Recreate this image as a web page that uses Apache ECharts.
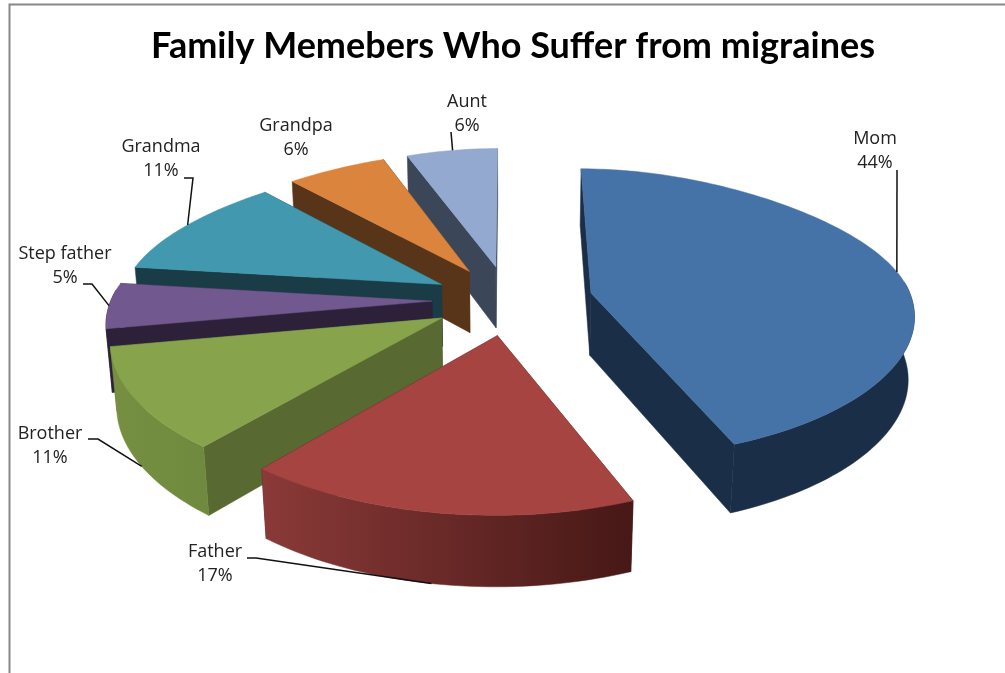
<!DOCTYPE html>
<html>
<head>
<meta charset="utf-8">
<style>html,body{margin:0;padding:0;background:#fff}#chart{width:1005px;height:673px}</style>
<script src="https://cdn.jsdelivr.net/npm/echarts@6/dist/echarts.min.js"></script>
</head>
<body>
<div id="chart"></div>
<script>
// Family members who suffer from migraines
const members = ['Mom', 'Father', 'Brother', 'Step father', 'Grandma', 'Grandpa', 'Aunt'];
const shares = [44, 17, 11, 5, 11, 6, 6];

// Shading per slice: top face, cut faces, outer rim from left to right
const topColors = ['#4572a7', '#a54441', '#87a44d', '#71588f', '#4198af', '#db843d', '#93a9cf'];
const cutColors = ['#1b2e47', '#4a1a18', '#586a31', '#2d2139', '#1a3c47', '#583418', '#3b4759'];
const rimLeft = ['#1b2e47', '#8a3a38', '#768f42', '#2d2139', '#1a3c47', '#583418', '#3b4759'];
const rimRight = ['#1b2e47', '#461816', '#6f8a3e', '#2d2139', '#1a3c47', '#583418', '#3b4759'];
// Painting order, far slices first
const paintRank = [6, 5, 4, 3, 2, 1, 0];

// Scene geometry of the exploded pie
const centerX = 510, centerY = 300;
const radius = 321, thickness = 71;
const explodeBy = [83, 78, 78, 78, 78, 78, 78];
const tiltSin = 0.447, tiltCos = Math.sqrt(1 - tiltSin * tiltSin), eyeDistance = 2050;
const farSquash = 0.13, nearSquash = 0.03;

// Label placement: text centre, elbow points, where the leader's tip sits on the rim
const labelPos = [[875, 151], [215, 564], [50, 446], [65, 266], [161, 159], [296, 138], [467, 114]];
const elbows = [
  [[897, 170]],
  [[247, 558], [256, 558]],
  [[88, 439], [98, 439]],
  [[83, 284], [92, 284]],
  [[184, 178], [193, 178]],
  [],
  [[451, 132]]
];
const tipLevel = [0, 1, 1, 0, 0, null, 0];
const tipTurn = [2, 1, 0, 0, 0, 0, 0];

const total = shares.reduce((a, b) => a + b, 0);

function project(x, v, z) {
  const f = eyeDistance / (eyeDistance - v * tiltCos - z * tiltSin);
  return [centerX + x * f, centerY + (v * tiltSin - z * tiltCos) * f];
}

function renderSlice(params, api) {
  const i = params.dataIndex;
  const start = shares.slice(0, i).reduce((a, b) => a + b, 0) / total * 2 * Math.PI;
  const sweep = api.value(1) / total * 2 * Math.PI;
  const mid = start + sweep / 2;
  const ox = explodeBy[i] * Math.sin(mid), ov = -explodeBy[i] * Math.cos(mid);
  const rimAt = (a, z) => {
    const c = Math.cos(a), s = Math.sin(a);
    const squash = c > 0 ? farSquash : nearSquash;
    return project(ox + radius * s * (1 - squash * c * c), ov - radius * c, z);
  };
  const apex = z => project(ox, ov, z);

  const steps = Math.max(8, Math.round(sweep * 40));
  const angles = [];
  for (let s = 0; s <= steps; s++) angles.push(start + sweep * s / steps);
  const topArc = angles.map(a => rimAt(a, 0));
  // Only the part of the rim turned towards the viewer gets a wall
  const facing = angles.filter(a => Math.cos(a) < 0.1);

  const z2 = paintRank[i] * 10;
  const poly = (points, fill, order) => ({
    type: 'polygon',
    shape: { points },
    style: { fill, stroke: fill, lineWidth: 0.5 },
    z2: z2 + order,
    silent: true
  });

  const children = [
    poly([apex(0), topArc[0], rimAt(start, -thickness), apex(-thickness)], cutColors[i], 0),
    poly([apex(0), topArc[steps], rimAt(start + sweep, -thickness), apex(-thickness)], cutColors[i], 0)
  ];

  if (facing.length > 1) {
    const upper = facing.map(a => rimAt(a, 0));
    const lower = facing.map(a => rimAt(a, -thickness));
    const xs = topArc.map(p => p[0]);
    const rimFill = new echarts.graphic.LinearGradient(
      Math.min(...xs), 0, Math.max(...xs), 0,
      [{ offset: 0, color: rimLeft[i] }, { offset: 1, color: rimRight[i] }], true);
    children.push(poly(upper.concat(lower.reverse()), rimFill, 1));
  }

  children.push(poly([apex(0)].concat(topArc), topColors[i], 2));

  // Leader line from the label to the slice's rim
  if (tipLevel[i] !== null) {
    const tip = rimAt(mid + tipTurn[i] * Math.PI / 180, -thickness * tipLevel[i]);
    children.push({
      type: 'polyline',
      shape: { points: elbows[i].concat([tip]) },
      style: { fill: null, stroke: '#111', lineWidth: 1.5 },
      z2: 200,
      silent: true
    });
  }

  // Two-line label: member name over its share
  [members[i], api.value(1) + '%'].forEach((text, line) => {
    children.push({
      type: 'text',
      style: {
        text,
        x: labelPos[i][0],
        y: labelPos[i][1] + (line ? 12 : -12),
        align: 'center',
        verticalAlign: 'middle',
        font: '18px "Open Sans"',
        fill: '#222'
      },
      z2: 210,
      silent: true
    });
  });

  return { type: 'group', children };
}

const chart = echarts.init(document.getElementById('chart'), null, { renderer: 'canvas' });
chart.setOption({
  animation: false,
  backgroundColor: '#fff',
  title: {
    text: 'Family Memebers Who Suffer from migraines',
    left: 508,
    top: 23,
    textAlign: 'center',
    textStyle: { fontFamily: 'Lato', fontWeight: 'bold', fontSize: 36, color: '#000' }
  },
  graphic: [{
    type: 'rect',
    shape: { x: 9.5, y: 4.5, width: 1100, height: 800 },
    style: { fill: 'none', stroke: '#888', lineWidth: 2 },
    silent: true
  }],
  series: [{
    type: 'custom',
    coordinateSystem: 'none',
    renderItem: renderSlice,
    data: members.map((name, i) => ({ name, value: [i, shares[i]] }))
  }]
});
</script>
</body>
</html>
